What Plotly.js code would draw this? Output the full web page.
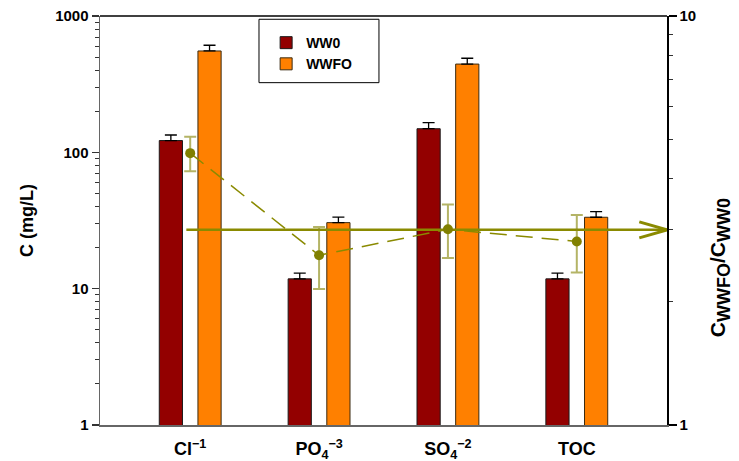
<!DOCTYPE html>
<html>
<head>
<meta charset="utf-8">
<script src="https://cdn.plot.ly/plotly-3.0.1.min.js"></script>
<style>html,body{margin:0;padding:0;background:#fff;}#chart{width:739px;height:461px;}</style>
</head>
<body>
<div id="chart"></div>
<script>
// ---- data ----
const categories = ["Cl<sup>−1</sup>", "PO<sub>4</sub><sup>−3</sup>", "SO<sub>4</sub><sup>−2</sup>", "TOC"];
const ww0 = [122, 11.8, 149, 11.8];
const ww0Err = [12, 1.2, 16, 1.2];
const wwfo = [554, 30.5, 444, 33.4];
const wwfoErr = [56, 3.0, 46, 3.3];
const ratio = [4.62, 2.60, 3.01, 2.81];
const ratioErr = [0.45, 0.45, 0.45, 0.45];
const meanRatio = 3.0;
const leftTicks = [1, 10, 100, 1000];
const rightTicks = [1, 10];

// ---- layout constants ----
const pos = categories.map((_, i) => i);
const xMin = -0.7, xMax = 3.7;
const lineStart = -0.03;
const FONT = "Liberation Sans, Arial, sans-serif";

function minorVals(ticks) {
  const out = [];
  for (let i = 0; i < ticks.length - 1; i++) {
    for (let k = 2; k <= 9; k++) out.push(ticks[i] * k);
  }
  return out;
}

const traces = [
  {
    type: "bar", name: "WW0", x: pos, y: ww0, width: 0.18, offset: -0.24,
    marker: {color: "#930000", line: {color: "#1a1a1a", width: 1}},
    error_y: {type: "data", symmetric: false, array: ww0Err, arrayminus: ww0.map(() => 0),
              color: "#000", thickness: 1.3, width: 6}
  },
  {
    type: "bar", name: "WWFO", x: pos, y: wwfo, width: 0.18, offset: 0.06,
    marker: {color: "#ff8000", line: {color: "#3a2a10", width: 1}},
    error_y: {type: "data", symmetric: false, array: wwfoErr, arrayminus: wwfo.map(() => 0),
              color: "#000", thickness: 1.3, width: 6}
  },
  {
    type: "scatter", mode: "lines", x: [lineStart, xMax], y: [meanRatio, meanRatio], yaxis: "y2",
    line: {color: "#8a8a00", width: 2.5}, showlegend: false, hoverinfo: "skip", cliponaxis: false
  },
  {
    type: "scatter", mode: "lines", yaxis: "y2", cliponaxis: false, showlegend: false, hoverinfo: "skip",
    x: [xMax - 0.215, xMax, xMax - 0.215],
    y: [meanRatio * 1.046, meanRatio, meanRatio / 1.046],
    line: {color: "#8a8a00", width: 3}
  },
  {
    type: "scatter", mode: "lines+markers", x: pos, y: ratio, yaxis: "y2", showlegend: false,
    line: {color: "#8a8a00", width: 1.5, dash: "17px,9px"},
    marker: {color: "#808000", size: 10, symbol: "circle"},
    error_y: {type: "data", array: ratioErr, color: "rgba(140,140,20,0.65)", thickness: 2, width: 6}
  }
];

const layout = {
  width: 739, height: 461,
  margin: {l: 100, r: 72, t: 16, b: 36},
  paper_bgcolor: "#fff", plot_bgcolor: "#fff",
  font: {family: FONT, color: "#000", size: 14, weight: "bold"},
  barmode: "overlay",
  showlegend: true,
  legend: {x: 0.293, y: 0.973, xanchor: "left", yanchor: "top", bgcolor: "rgba(0,0,0,0)",
           borderwidth: 0,
           font: {family: FONT, size: 14, weight: "bold", color: "#000"}},
  xaxis: {
    range: [xMin, xMax], tickmode: "array", tickvals: pos, ticktext: categories,
    showline: true, linecolor: "#666", linewidth: 1.5, mirror: false,
    ticks: "outside", ticklen: 7, tickcolor: "rgba(0,0,0,0)",
    showgrid: false, zeroline: false, automargin: false,
    tickfont: {family: FONT, size: 18, weight: "bold", color: "#000"}
  },
  yaxis: {
    type: "log", range: [0, 3], tickmode: "array", tickvals: leftTicks, ticktext: leftTicks.map(String),
    showline: true, linecolor: "#666", linewidth: 1.5,
    ticks: "outside", ticklen: 7, tickwidth: 1.2, tickcolor: "#333",
    minor: {tickmode: "array", tickvals: minorVals(leftTicks), ticks: "outside", ticklen: 4, tickcolor: "#333", tickwidth: 1},
    showgrid: false, zeroline: false, automargin: false,
    tickfont: {family: FONT, size: 15, weight: "bold", color: "#000"},
    title: {text: "C (mg/L)", font: {family: FONT, size: 18, weight: "bold", color: "#000"}, standoff: 17}
  },
  yaxis2: {
    type: "log", range: [0, 1], overlaying: "y", side: "right",
    tickmode: "array", tickvals: rightTicks, ticktext: rightTicks.map(String),
    showline: true, linecolor: "#000", linewidth: 1.5,
    ticks: "outside", ticklen: 8, tickwidth: 1.2, tickcolor: "#000",
    minor: {tickmode: "array", tickvals: minorVals(rightTicks), ticks: "outside", ticklen: 4, tickcolor: "#333", tickwidth: 1},
    showgrid: false, zeroline: false, automargin: false,
    tickfont: {family: FONT, size: 15, weight: "bold", color: "#000"}
  },
  shapes: [
    {type: "line", xref: "paper", yref: "paper", x0: 0, x1: 1, y0: 1, y1: 1, line: {color: "#000", width: 1.5}},
    {type: "rect", xref: "paper", yref: "paper", x0: 0.2804, x1: 0.492, y0: 0.837, y1: 0.992,
     line: {color: "#000", width: 1}, fillcolor: "rgba(0,0,0,0)"}
  ],
  annotations: [
    {text: "C<sub><span style='font-size:18px'>WWFO</span></sub>/C<sub><span style='font-size:18px'>WW0</span></sub>",
     xref: "paper", yref: "paper", x: 1.094, y: 0.384,
     xanchor: "center", yanchor: "middle", textangle: -90, showarrow: false,
     font: {family: FONT, size: 21, weight: "bold", color: "#000"}}
  ]
};

Plotly.newPlot("chart", traces, layout, {displayModeBar: false, staticPlot: true});
</script>
</body>
</html>
